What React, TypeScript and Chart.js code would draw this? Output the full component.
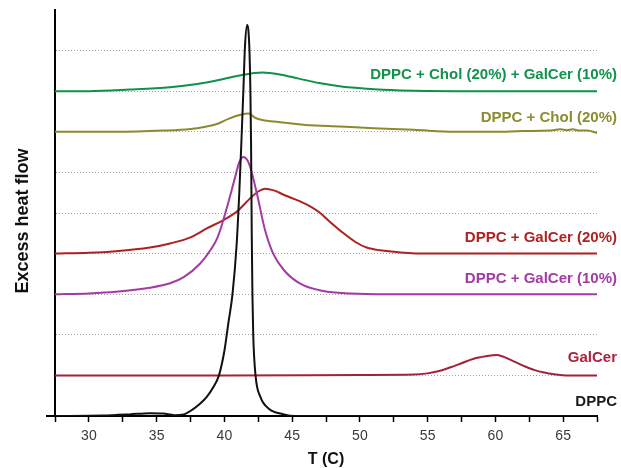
import React, { useEffect, useRef } from "react";
import { Chart, registerables } from "chart.js";

Chart.register(...registerables);

// ---- data (temperature in C, excess heat flow with vertical offsets) ----
const dppcT = [27.5, 31, 33, 34.5, 35.5, 36.3, 37.0, 37.7, 38.2, 38.7, 39.2, 39.6, 40.0, 40.3, 40.6, 40.9, 41.1, 41.25, 41.4, 41.52, 41.68, 41.84, 41.92, 41.97, 42.02, 42.07, 42.13, 42.3, 42.66, 43.28, 44.4, 45.2, 67.5];
const dppcFlow = [0, 0.01, 0.04, 0.07, 0.06, 0.02, 0.04, 0.17, 0.3, 0.47, 0.72, 1.0, 1.6, 2.3, 3.0, 4.2, 5.5, 6.7, 8.0, 9.1, 9.63, 9.1, 8.0, 6.7, 4.5, 3.0, 2.0, 1.0, 0.47, 0.18, 0.04, 0.0, 0.0];

const galcerT = [27.5, 40, 50, 54, 55, 56, 56.7, 57.5, 58.4, 59.3, 60.1, 60.5, 61.4, 62.2, 62.9, 63.6, 64.3, 65.5, 67.5];
const galcerFlow = [1.0, 1.0, 1.01, 1.02, 1.05, 1.12, 1.2, 1.3, 1.41, 1.47, 1.5, 1.47, 1.34, 1.22, 1.13, 1.07, 1.03, 1.0, 1.0];

const gal10T = [27.5, 30, 32, 34.5, 36, 37, 38.2, 39, 39.5, 40.2, 40.8, 41.1, 41.4, 41.7, 41.9, 42.4, 43.0, 43.6, 44.4, 45.6, 47.3, 49.3, 52, 67.5];
const gal10Flow = [3.0, 3.02, 3.06, 3.16, 3.27, 3.42, 3.75, 4.1, 4.4, 5.15, 5.89, 6.25, 6.38, 6.3, 6.14, 5.48, 4.58, 4.0, 3.59, 3.26, 3.08, 3.02, 3.0, 3.0];

const gal20T = [27.5, 30, 32, 34.5, 36, 37.5, 38.7, 39.9, 40.9, 41.9, 42.5, 43.0, 43.7, 44.5, 45.5, 46.3, 47, 47.8, 48.8, 49.7, 50.5, 51.5, 53, 55, 67.5];
const gal20Flow = [4.0, 4.02, 4.06, 4.15, 4.25, 4.4, 4.62, 4.82, 5.03, 5.36, 5.53, 5.6, 5.55, 5.43, 5.3, 5.17, 5.02, 4.78, 4.5, 4.28, 4.15, 4.08, 4.03, 4.0, 4.0];

const cholT = [27.5, 32, 35.5, 37.5, 38.5, 39.5, 40.3, 41.2, 41.8, 42.3, 42.8, 44, 46, 48.5, 51, 54, 57, 60, 62, 64, 64.8, 65.3, 65.7, 66.2, 66.8, 67.5];
const cholFlow = [7.0, 7.0, 7.03, 7.07, 7.12, 7.2, 7.32, 7.42, 7.45, 7.34, 7.29, 7.24, 7.17, 7.13, 7.09, 7.05, 7.0, 7.0, 7.02, 7.03, 7.06, 7.04, 7.06, 7.03, 7.03, 6.97];

const cholGalT = [27.5, 30, 33, 36, 38, 39.5, 41, 42.8, 44, 45.5, 47, 48.5, 50.5, 53, 57, 67.5];
const cholGalFlow = [8.0, 8.0, 8.04, 8.1, 8.18, 8.27, 8.38, 8.46, 8.42, 8.31, 8.2, 8.12, 8.06, 8.02, 8.0, 8.0];

const seriesNames = [
  "DPPC",
  "GalCer",
  "DPPC + GalCer (10%)",
  "DPPC + GalCer (20%)",
  "DPPC + Chol (20%)",
  "DPPC + Chol (20%) + GalCer (10%)",
];
const seriesBaselines = [0, 1, 3, 4, 7, 8];
const seriesColors = ["#111111", "#a3213f", "#a23ba3", "#ad2121", "#8a8a2f", "#0d9248"];
const labelColors = ["#1a1a1a", "#a8223e", "#a43aa4", "#b02222", "#8c8c30", "#12924c"];

const xTitle = "T (C)";
const yTitle = "Excess heat flow";
const xMin = 27.5;
const xMax = 67.5;
const yMin = 0;
const yMax = 10;

const seriesT = [dppcT, galcerT, gal10T, gal20T, cholT, cholGalT];
const seriesFlow = [dppcFlow, galcerFlow, gal10Flow, gal20Flow, cholFlow, cholGalFlow];

// label vertical offsets (px above the series baseline)
const labelOffsets = [14, 18, 15, 16, 14, 16];

const annotationPlugin = {
  id: "dscAnnotations",
  afterDraw(chart: any) {
    const { ctx, chartArea, scales } = chart;
    const ys = scales.y;
    ctx.save();
    // x axis line extension to the left of the y axis
    ctx.strokeStyle = "#000";
    ctx.lineWidth = 2;
    ctx.beginPath();
    ctx.moveTo(chartArea.left - 9, chartArea.bottom);
    ctx.lineTo(chartArea.left, chartArea.bottom);
    ctx.stroke();

    // series labels
    ctx.font = "bold 15px 'Liberation Sans', Arial, sans-serif";
    ctx.textAlign = "right";
    ctx.textBaseline = "middle";
    seriesNames.forEach((name, i) => {
      const y = ys.getPixelForValue(seriesBaselines[i]) - labelOffsets[i];
      ctx.fillStyle = labelColors[i];
      ctx.fillText(name, 617, y);
    });

    // axis titles
    ctx.fillStyle = "#111";
    ctx.textAlign = "center";
    ctx.font = "bold 16px 'Liberation Sans', Arial, sans-serif";
    ctx.fillText(xTitle, (chartArea.left + chartArea.right) / 2, 460);
    ctx.translate(23, (chartArea.top + chartArea.bottom) / 2 + 8);
    ctx.rotate(-Math.PI / 2);
    ctx.font = "bold 18px 'Liberation Sans', Arial, sans-serif";
    ctx.fillText(yTitle, 0, 0);
    ctx.restore();
  },
};

export default function App() {
  const canvasRef = useRef<HTMLCanvasElement | null>(null);

  useEffect(() => {
    if (!canvasRef.current) return;
    const datasets = seriesNames.map((name, i) => ({
      label: name,
      data: seriesT[i].map((t, j) => ({ x: t, y: seriesFlow[i][j] })),
      borderColor: seriesColors[i],
      backgroundColor: seriesColors[i],
      borderWidth: 2,
      pointRadius: 0,
      fill: false,
      cubicInterpolationMode: "monotone" as const,
    }));

    const chart = new Chart(canvasRef.current, {
      type: "line",
      data: { datasets },
      options: {
        animation: false,
        responsive: false,
        layout: { padding: { top: 10, right: 24, left: 0, bottom: 0 } },
        plugins: {
          legend: { display: false },
          tooltip: { enabled: false },
        },
        scales: {
          x: {
            type: "linear",
            min: xMin,
            max: xMax,
            afterFit(scale: any) {
              scale.height = 52;
            },
            border: { display: true, color: "#000", width: 2 },
            grid: {
              drawOnChartArea: false,
              drawTicks: true,
              tickLength: 6,
              tickColor: "#000",
              tickWidth: 1.5,
            },
            ticks: {
              stepSize: 2.5,
              autoSkip: false,
              maxRotation: 0,
              padding: 6,
              color: "#3a3a3a",
              font: { family: "'Liberation Sans', Arial, sans-serif", size: 14 },
              callback: (v: any) => (Number(v) % 5 === 0 ? String(v) : ""),
            },
          },
          y: {
            type: "linear",
            min: yMin,
            max: yMax,
            afterFit(scale: any) {
              scale.width = 55;
            },
            border: { display: true, color: "#000", width: 2, dash: [1, 2] },
            grid: {
              drawTicks: false,
              color: (c: any) => {
                const v = c.tick ? c.tick.value : 0;
                return v >= 1 && v <= 9 ? "#a0a0a0" : "rgba(0,0,0,0)";
              },
              lineWidth: 1,
            },
            ticks: { display: false, stepSize: 1 },
          },
        },
      },
      plugins: [annotationPlugin],
    });
    return () => chart.destroy();
  }, []);

  return (
    <div style={{ position: "absolute", left: 0, top: 0, width: 621, height: 468, background: "#fff" }}>
      <canvas ref={canvasRef} width={621} height={468} style={{ display: "block" }} />
    </div>
  );
}
